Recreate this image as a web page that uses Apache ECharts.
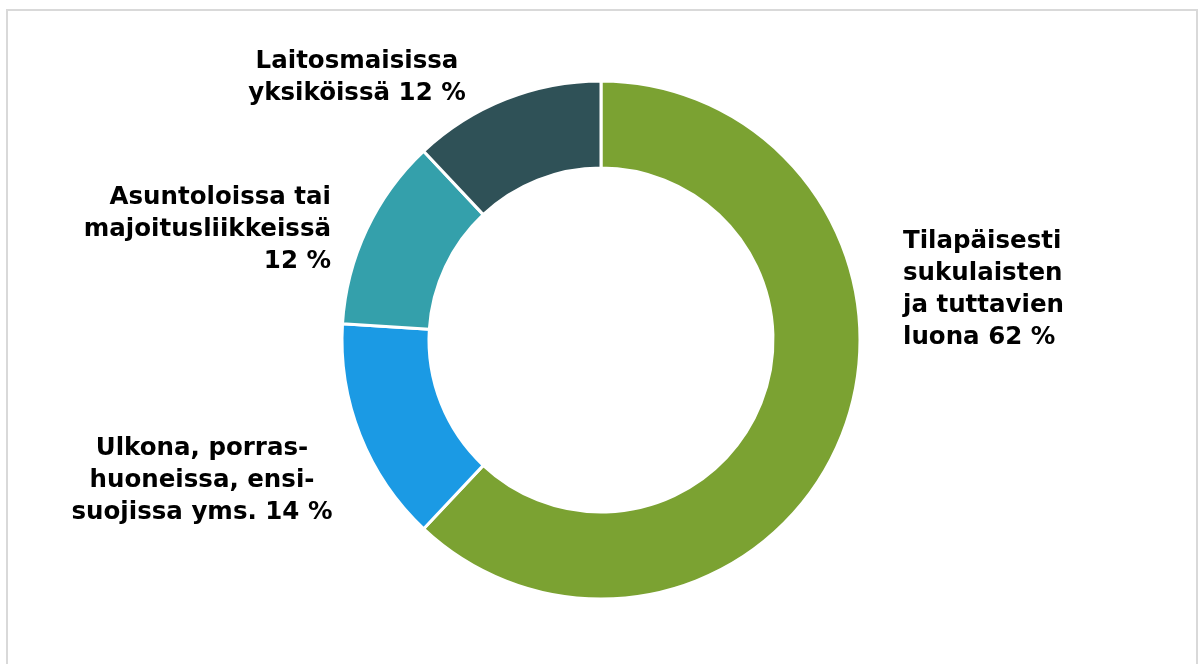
<!DOCTYPE html>
<html>
<head>
<meta charset="utf-8">
<script src="https://cdn.jsdelivr.net/npm/echarts@6/dist/echarts.min.js"></script>
<style>
html,body{margin:0;padding:0;background:#fff;width:1202px;height:664px;overflow:hidden;}
#frame{position:absolute;left:6px;top:9px;width:1192px;height:670px;border:2px solid #d9d9d9;box-sizing:border-box;}
#chart{position:absolute;left:0;top:0;width:1202px;height:664px;}
</style>
</head>
<body>
<div id="frame"></div>
<div id="chart"></div>
<script>
const categories = [
  "Tilapäisesti\nsukulaisten\nja tuttavien\nluona ",
  "Ulkona, porras-\nhuoneissa, ensi-\nsuojissa yms. ",
  "Asuntoloissa tai\nmajoitusliikkeissä\n",
  "Laitosmaisissa\nyksiköissä "
];
const values = [62, 14, 12, 12];
const colors = ["#7BA232", "#1B9AE4", "#34A0AB", "#2F5157"];

const labelPos = [
  {x: 903, y: 290, align: 'left'},
  {x: 202, y: 481, align: 'center'},
  {x: 331, y: 230, align: 'right'},
  {x: 357, y: 78, align: 'center'}
];

const chart = echarts.init(document.getElementById('chart'), null, {renderer: 'canvas'});
chart.setOption({
  animation: false,
  series: [{
    type: 'pie',
    center: [601, 340],
    radius: [172, 259],
    startAngle: 90,
    clockwise: true,
    avoidLabelOverlap: false,
    itemStyle: {borderColor: '#fff', borderWidth: 3},
    label: {
      show: true,
      position: 'outside',
      formatter: p => p.name + p.value + ' %',
      fontFamily: 'DejaVu Sans',
      fontWeight: 'bold',
      fontSize: 24.5,
      lineHeight: 32,
      color: '#000'
    },
    labelLine: {show: false},
    labelLayout: function (params) {
      const p = labelPos[params.dataIndex];
      return {x: p.x, y: p.y, align: p.align, verticalAlign: 'middle'};
    },
    data: categories.map((c, i) => ({name: c, value: values[i], itemStyle: {color: colors[i]}}))
  }]
});
</script>
</body>
</html>
